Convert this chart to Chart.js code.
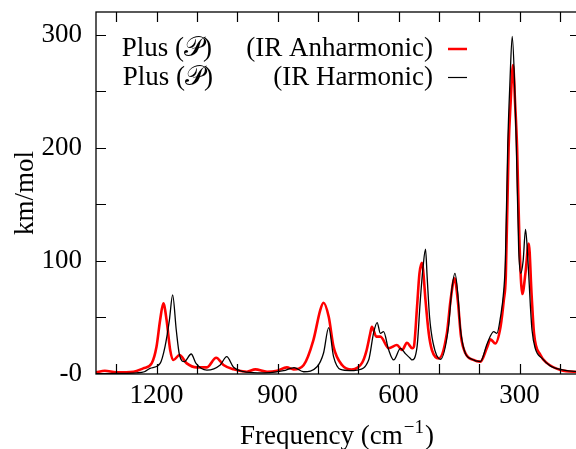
<!DOCTYPE html>
<html>
<head>
<meta charset="utf-8">
<script src="https://cdn.jsdelivr.net/npm/chart.js@4.4.1/dist/chart.umd.min.js"></script>
<style>
  html, body { margin: 0; padding: 0; background: #fff; overflow: hidden; }
  #wrap { width: 576px; height: 449px; overflow: hidden; }
</style>
</head>
<body>
<div id="wrap"><canvas id="spectrum" width="580" height="449"></canvas></div>
<script>
// Harmonic IR spectrum (black)
const harmFreq = [1350, 1300, 1250, 1230, 1216, 1191, 1179, 1168, 1160, 1151, 1143, 1131, 1114, 1102, 1075,
  1042, 1026, 1009, 984, 950, 918, 885, 859, 835, 802, 786, 773, 761, 744, 720, 703, 674, 662, 653, 645,
  637, 625, 612, 595, 583, 571, 567, 554, 546, 539, 533, 529, 523, 514, 496, 476, 468, 460, 453, 447, 437,
  418, 397, 380, 364, 356, 347, 339, 335, 329, 324, 318, 312, 308, 302, 297, 291, 285, 279, 273, 269, 261,
  244, 223, 190, 150];
const harmInt = [0.3, 0.5, 1, 2, 5, 9.4, 24, 47.7, 70, 38.9, 16.8, 10.9, 17.7, 9.4, 3.5,
  8, 15.3, 5.9, 2, 1, 1.2, 2.9, 5.6, 2, 6.4, 18.3, 41, 15.3, 4, 3, 3.5, 12.4, 36, 45.5, 36,
  37.4, 22, 12.4, 22.7, 18, 13.9, 12.4, 24, 65, 95, 110.4, 86, 50.6, 27, 13, 41.8, 74, 88.9, 71, 41.8, 21,
  13, 11, 27, 37.4, 35.9, 50.6, 74, 100, 204, 255, 298.5, 255, 204, 110, 89, 100, 127.8, 100, 60, 38.9, 22.7,
  13.8, 7, 3.5, 2];

// Anharmonic IR spectrum (red)
const anhFreq = [1350, 1328, 1300, 1257, 1233, 1212, 1200, 1191, 1183, 1175, 1166, 1158, 1143, 1125, 1100,
  1075, 1052, 1034, 1009, 976, 955, 926, 901, 877, 860, 835, 811, 794, 786, 773, 761, 740, 716, 690, 680,
  670, 666, 655, 645, 624, 604, 591, 579, 566, 562, 554, 548, 542, 539, 533, 525, 517, 500, 480, 471, 461,
  453, 445, 434, 414, 397, 380, 372, 360, 347, 339, 334, 327, 322, 316, 311, 306, 300, 293, 285, 277, 270,
  264, 248, 231, 198, 150];
const anhInt = [1.5, 2.9, 1.5, 2, 5, 9.4, 24, 47.7, 62.4, 47.7, 21, 12.4, 16.8, 9.4, 5.9,
  5.9, 14.4, 8, 4.1, 2, 4.1, 2, 2.9, 5.9, 4.1, 8, 30, 56.5, 63, 50.6, 24, 8, 4, 10, 19.7,
  36, 41.8, 33, 33, 22.7, 25.6, 21.2, 27.6, 22.7, 24, 59.5, 89, 98.3, 92, 65, 36, 21, 13.8, 36, 65, 84.5,
  65, 33, 18.3, 12.4, 10.9, 24, 30.6, 27, 41.8, 65, 86, 200, 240, 273, 240, 200, 115, 70.7, 90, 115.4, 70,
  36, 16.8, 9.4, 3.5, 1.5];

const xTickValues = [1300, 1200, 1100, 1000, 900, 800, 700, 600, 500, 400, 300, 200];
const xTickLabels = [1200, 900, 600, 300];
const yTickValues = [0, 50, 100, 150, 200, 250, 300];
const yTickLabels = [0, 100, 200, 300];

const FONT = '"Liberation Serif", "DejaVu Serif", serif';
const FS = 27;

const toPoints = (xs, ys) => xs.map((x, i) => ({ x: x, y: ys[i] }));

// gnuplot-like frame, inward ticks, key and axis titles
const gnuFrame = {
  id: 'gnuFrame',
  afterDraw(chart) {
    const ctx = chart.ctx;
    const a = chart.chartArea;
    const xs = chart.scales.x, ys = chart.scales.y;
    ctx.save();
    ctx.strokeStyle = '#000';
    ctx.lineWidth = 1.3;
    ctx.strokeRect(a.left, a.top, a.right - a.left, a.bottom - a.top);

    ctx.lineWidth = 1.2;
    ctx.beginPath();
    xTickValues.forEach(v => {
      const px = Math.round(xs.getPixelForValue(v)) + 0.5;
      ctx.moveTo(px, a.bottom); ctx.lineTo(px, a.bottom - 10);
      ctx.moveTo(px, a.top); ctx.lineTo(px, a.top + 10);
    });
    yTickValues.forEach(v => {
      if (v === 0) return;
      const py = Math.round(ys.getPixelForValue(v)) + 0.5;
      ctx.moveTo(a.left, py); ctx.lineTo(a.left + 10, py);
      ctx.moveTo(a.right, py); ctx.lineTo(a.right - 10, py);
    });
    ctx.stroke();

    // key
    ctx.fillStyle = '#000';
    ctx.font = FS + 'px ' + FONT;
    ctx.textAlign = 'right';
    ctx.textBaseline = 'alphabetic';
    ctx.fillText('Plus (𝒫)', 212, 56);
    ctx.fillText('(IR Anharmonic)', 433, 56);
    ctx.fillText('Plus (𝒫)', 213, 85);
    ctx.fillText('(IR Harmonic)', 433, 85);
    ctx.lineWidth = 2.5;
    ctx.strokeStyle = '#ff0000';
    ctx.beginPath(); ctx.moveTo(448, 49); ctx.lineTo(467, 49); ctx.stroke();
    ctx.lineWidth = 1.2;
    ctx.strokeStyle = '#000';
    ctx.beginPath(); ctx.moveTo(448, 77.5); ctx.lineTo(467, 77.5); ctx.stroke();

    // x title with superscript
    const cx = (a.left + a.right) / 2 - 2;
    const main = 'Frequency (cm';
    const sup = '−1';
    const tail = ')';
    ctx.font = FS + 'px ' + FONT;
    const w1 = ctx.measureText(main).width;
    const w3 = ctx.measureText(tail).width;
    ctx.font = Math.round(FS * 0.7) + 'px ' + FONT;
    const w2 = ctx.measureText(sup).width;
    const x0 = cx - (w1 + w2 + w3) / 2;
    ctx.textAlign = 'left';
    ctx.font = FS + 'px ' + FONT;
    ctx.fillText(main, x0, 444);
    ctx.font = Math.round(FS * 0.7) + 'px ' + FONT;
    ctx.fillText(sup, x0 + w1 + 1, 433);
    ctx.font = FS + 'px ' + FONT;
    ctx.fillText(tail, x0 + w1 + w2 + 2, 444);

    // y title
    ctx.translate(26, (a.top + a.bottom) / 2);
    ctx.rotate(-Math.PI / 2);
    ctx.textAlign = 'center';
    ctx.textBaseline = 'middle';
    ctx.fillText('km/mol', 0, 0);
    ctx.restore();
  }
};

new Chart(document.getElementById('spectrum'), {
  type: 'line',
  data: {
    datasets: [
      {
        label: 'Plus (𝒫) (IR Harmonic)',
        data: toPoints(harmFreq, harmInt),
        borderColor: '#000000',
        borderWidth: 1.3,
        pointRadius: 0,
        cubicInterpolationMode: 'monotone',
        order: 0
      },
      {
        label: 'Plus (𝒫) (IR Anharmonic)',
        data: toPoints(anhFreq, anhInt),
        borderColor: '#ff0000',
        borderWidth: 2.6,
        pointRadius: 0,
        cubicInterpolationMode: 'monotone',
        order: 1
      }
    ]
  },
  options: {
    responsive: false,
    animation: false,
    devicePixelRatio: 1,
    layout: { padding: { top: 12, left: 0, right: 0, bottom: 0 } },
    plugins: { legend: { display: false }, tooltip: { enabled: false } },
    scales: {
      x: {
        type: 'linear',
        reverse: true,
        min: 150,
        max: 1350,
        afterBuildTicks: s => { s.ticks = xTickValues.map(v => ({ value: v })); },
        afterFit: s => { s.height = 75; s.paddingLeft = 0; s.paddingRight = 0; },
        grid: { display: false, drawTicks: false },
        border: { display: false },
        ticks: {
          autoSkip: false,
          maxRotation: 0,
          padding: 6,
          color: '#000',
          font: { family: FONT, size: FS },
          callback: v => xTickLabels.includes(v) ? String(v) : ''
        }
      },
      y: {
        min: 0,
        max: 320,
        afterBuildTicks: s => { s.ticks = yTickValues.map(v => ({ value: v })); },
        afterFit: s => { s.width = 96; s.paddingTop = 0; s.paddingBottom = 0; },
        grid: { display: false, drawTicks: false },
        border: { display: false },
        ticks: {
          autoSkip: false,
          padding: 14,
          color: '#000',
          font: { family: FONT, size: FS },
          callback: v => yTickLabels.includes(v) ? (v === 0 ? '-0' : String(v)) : ''
        }
      }
    }
  },
  plugins: [gnuFrame]
});
</script>
</body>
</html>
